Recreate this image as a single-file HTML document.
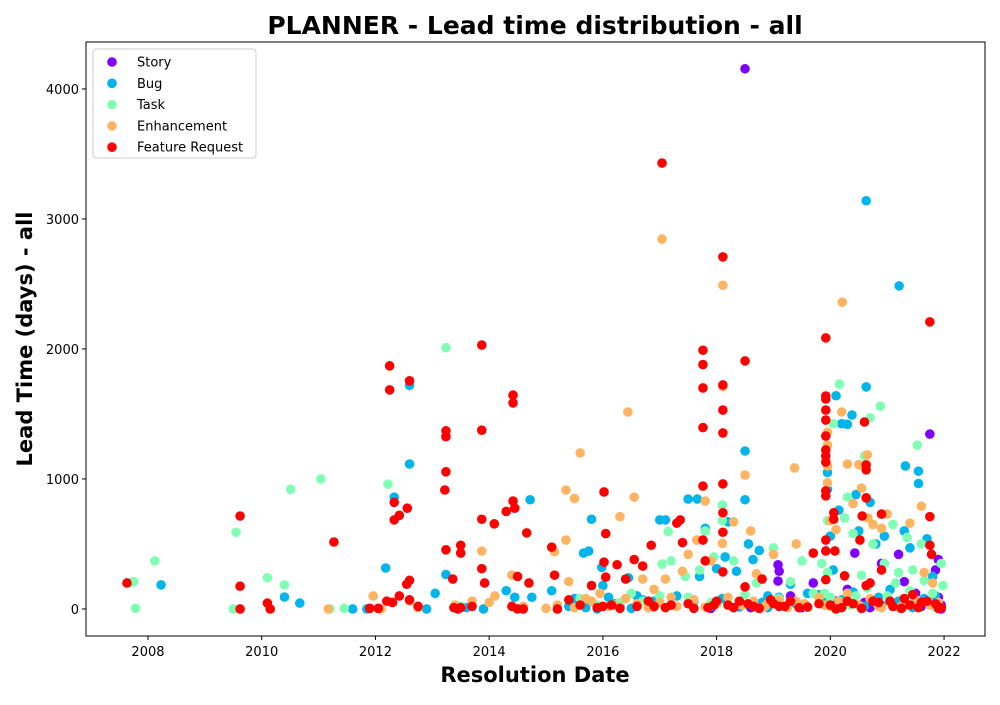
<!DOCTYPE html>
<html><head><meta charset="utf-8">
<style>
body{margin:0;background:#fff;font-family:"Liberation Sans","DejaVu Sans",sans-serif;}
svg text{font-family:"DejaVu Sans","Liberation Sans",sans-serif;}
</style></head>
<body>
<svg id="chart" width="1000" height="700" xmlns="http://www.w3.org/2000/svg">
<rect width="1000" height="700" fill="#fff"/>
<text x="535" y="34" text-anchor="middle" font-size="25" font-weight="bold">PLANNER - Lead time distribution - all</text>
<g id="marks"></g>
<rect x="86" y="42" width="899" height="594" fill="none" stroke="#000" stroke-width="1"/>
<g id="xticks"></g><g id="yticks"></g>
<text x="535" y="682" text-anchor="middle" font-size="21" font-weight="bold">Resolution Date</text>
<text transform="translate(32,339) rotate(-90)" text-anchor="middle" font-size="21" font-weight="bold">Lead Time (days) - all</text>
<g id="legend"></g>
</svg>
<script>
const seriesNames=["Story","Bug","Task","Enhancement","Feature Request"];
const seriesColors=["#8000ff","#00b4ec","#80ffb4","#ffb462","#ff0000"];
const xTicks=[2008,2010,2012,2014,2016,2018,2020,2022];
const yTicks=[0,1000,2000,3000,4000];
const storyPts=[[2018.5,4155],[2021.75,1345],[2019.08,215],[2019.08,340],[2019.1,290],[2020.43,430],[2021.9,380],[2021.95,30],[2021.9,90],[2021.85,300],[2020.9,350],[2021.3,210],[2020.1,60],[2019.5,10],[2019.7,200],[2021.2,420],[2021.5,120],[2020.7,10],[2021.95,0],[2018.9,20],[2019.3,100],[2020.3,150],[2019.9,30],[2020.6,50],[2021.6,20],[2021.1,40],[2018.6,10],[2017.9,5]];
const bugPts=[[2008.23,185],[2010.4,92],[2010.67,45],[2011.6,0],[2011.85,0],[2012.18,315],[2012.33,860],[2012.6,1720],[2012.6,1115],[2012.9,0],[2013.05,120],[2013.24,265],[2013.6,10],[2013.9,0],[2014.3,140],[2014.45,90],[2014.72,840],[2014.75,90],[2015.1,140],[2015.2,0],[2015.5,80],[2015.66,430],[2015.75,445],[2015.8,690],[2015.98,320],[2016.0,180],[2016.1,90],[2016.3,20],[2016.45,240],[2016.6,100],[2016.9,60],[2017.0,685],[2017.1,685],[2017.3,100],[2017.5,845],[2017.66,845],[2017.7,250],[2017.8,620],[2018.0,310],[2018.15,400],[2018.2,670],[2018.35,290],[2018.5,840],[2018.5,1215],[2018.56,500],[2018.64,380],[2018.75,450],[2018.9,100],[2019.3,190],[2019.6,120],[2019.9,80],[2019.95,1050],[2019.95,920],[2020.0,560],[2020.05,300],[2020.1,1640],[2020.15,760],[2020.2,1425],[2020.38,1492],[2020.3,1420],[2020.45,880],[2020.5,600],[2020.63,3140],[2020.63,1708],[2020.7,820],[2020.8,500],[2020.95,560],[2021.21,2485],[2021.3,600],[2021.32,1100],[2021.4,470],[2021.55,1060],[2021.55,965],[2021.7,540],[2021.8,250],[2021.85,100],[2021.5,40],[2020.9,30],[2019.5,30],[2018.9,10],[2017.9,20],[2016.8,10],[2015.9,0],[2015.4,20],[2016.2,40],[2016.5,5],[2017.2,30],[2017.6,60],[2018.1,80],[2018.4,15],[2018.8,50],[2019.1,90],[2019.4,40],[2019.8,110],[2020.2,70],[2020.4,130],[2020.6,20],[2020.85,90],[2021.05,150],[2021.2,60],[2021.45,10],[2021.65,80],[2021.9,30],[2015.7,10],[2016.7,70]];
const taskPts=[[2007.68,200],[2007.75,210],[2007.78,5],[2008.12,370],[2009.55,590],[2009.5,0],[2010.1,240],[2010.4,185],[2010.51,920],[2011.04,1000],[2011.2,0],[2011.45,5],[2012.22,960],[2013.24,2010],[2013.5,20],[2014.6,10],[2015.9,30],[2016.5,120],[2017.04,345],[2017.15,595],[2017.2,370],[2017.45,250],[2017.7,300],[2017.8,600],[2017.95,400],[2018.1,800],[2018.1,680],[2018.3,370],[2018.7,200],[2019.0,470],[2019.3,210],[2019.5,370],[2019.7,120],[2019.85,350],[2019.95,680],[2019.95,280],[2020.05,1425],[2020.16,1730],[2020.25,700],[2020.3,860],[2020.4,580],[2020.55,260],[2020.6,1177],[2020.7,1470],[2020.75,500],[2020.88,1560],[2020.95,350],[2021.1,650],[2021.2,280],[2021.35,550],[2021.45,300],[2021.53,1260],[2021.6,500],[2021.65,220],[2021.8,120],[2021.98,180],[2021.95,350],[2021.3,60],[2020.2,40],[2019.2,20],[2018.2,30],[2017.3,20],[2016.7,60],[2015.6,80],[2021.0,100],[2020.45,100],[2016.9,10],[2017.5,90],[2017.9,50],[2018.5,110],[2018.9,40],[2019.1,80],[2019.6,10],[2019.9,120],[2020.0,90],[2020.35,30],[2020.65,160],[2020.8,50],[2021.15,200],[2021.4,140],[2021.7,60],[2021.85,10],[2016.3,50],[2017.0,100]];
const enhPts=[[2011.17,0],[2011.96,100],[2012.1,0],[2012.6,60],[2012.75,10],[2013.4,30],[2013.7,60],[2013.87,445],[2014.0,50],[2014.1,100],[2014.4,260],[2014.6,20],[2015.0,5],[2015.15,440],[2015.35,530],[2015.35,915],[2015.5,850],[2015.6,1200],[2015.4,210],[2015.7,80],[2015.95,120],[2016.3,710],[2016.44,1515],[2016.55,860],[2016.7,230],[2016.9,150],[2017.04,2845],[2017.1,230],[2017.4,290],[2017.5,420],[2017.65,530],[2017.8,830],[2017.9,370],[2018.11,2490],[2018.11,1710],[2018.1,505],[2018.3,670],[2018.5,1030],[2018.6,600],[2018.7,270],[2019.0,420],[2019.37,1085],[2019.4,500],[2019.7,430],[2019.95,1360],[2019.95,1260],[2019.95,1100],[2019.95,970],[2020.0,680],[2020.1,610],[2020.21,2360],[2020.2,1515],[2020.3,1115],[2020.4,810],[2020.5,1110],[2020.55,930],[2020.65,1185],[2020.66,700],[2020.75,650],[2020.9,620],[2021.0,730],[2021.4,660],[2021.6,790],[2021.65,280],[2021.8,200],[2021.9,50],[2019.4,60],[2018.9,40],[2017.2,90],[2016.2,30],[2020.9,10],[2021.3,20],[2018.3,10],[2019.9,30],[2015.2,30],[2015.5,10],[2015.8,60],[2016.1,20],[2016.4,80],[2016.6,40],[2016.8,10],[2017.0,50],[2017.3,20],[2017.6,70],[2017.8,15],[2018.0,40],[2018.2,90],[2018.45,30],[2018.65,60],[2018.85,20],[2019.1,70],[2019.25,10],[2019.55,40],[2019.8,90],[2020.0,20],[2020.15,60],[2020.3,120],[2020.5,30],[2020.7,80],[2020.85,20],[2021.05,50],[2021.2,10],[2021.5,70],[2021.75,30],[2021.95,10]];
const featPts=[[2007.63,200],[2009.62,715],[2009.62,175],[2009.62,0],[2010.1,45],[2010.15,0],[2011.27,515],[2011.9,5],[2012.05,5],[2012.25,1870],[2012.25,1685],[2012.2,60],[2012.3,50],[2012.33,820],[2012.33,685],[2012.42,720],[2012.42,100],[2012.56,775],[2012.6,1755],[2012.6,220],[2012.55,190],[2012.6,70],[2012.75,20],[2013.22,915],[2013.24,1370],[2013.24,1325],[2013.24,1055],[2013.24,455],[2013.36,230],[2013.38,10],[2013.45,0],[2013.5,430],[2013.5,490],[2013.5,10],[2013.7,20],[2013.87,2030],[2013.87,1375],[2013.87,690],[2013.87,310],[2013.92,200],[2014.09,655],[2014.3,750],[2014.4,20],[2014.42,1645],[2014.42,1585],[2014.42,830],[2014.45,775],[2014.5,250],[2014.5,0],[2014.6,0],[2014.66,585],[2014.7,200],[2015.1,475],[2015.15,260],[2015.2,0],[2015.4,70],[2015.6,30],[2015.8,180],[2016.0,20],[2016.02,900],[2016.02,360],[2016.05,245],[2016.05,580],[2016.15,30],[2016.25,340],[2016.4,230],[2016.55,380],[2016.6,20],[2016.7,330],[2016.8,60],[2016.85,490],[2017.04,3430],[2017.2,30],[2017.36,685],[2017.3,660],[2017.4,510],[2017.5,40],[2017.76,1990],[2017.76,1880],[2017.76,1700],[2017.76,1395],[2017.76,945],[2017.76,530],[2017.8,370],[2017.85,10],[2018.0,60],[2018.11,2708],[2018.11,1723],[2018.11,1530],[2018.11,1354],[2018.11,962],[2018.11,740],[2018.11,590],[2018.11,285],[2018.2,30],[2018.5,1908],[2018.5,170],[2018.65,20],[2018.8,230],[2018.95,70],[2019.2,20],[2019.45,10],[2019.7,430],[2019.8,40],[2019.92,2085],[2019.92,1638],[2019.92,1615],[2019.92,1530],[2019.92,1453],[2019.92,1330],[2019.92,1223],[2019.92,1177],[2019.92,1130],[2019.92,908],[2019.92,870],[2019.92,530],[2019.92,446],[2019.92,225],[2020.06,740],[2020.06,690],[2020.08,446],[2020.1,0],[2020.25,255],[2020.3,60],[2020.52,530],[2020.56,715],[2020.6,1438],[2020.63,1108],[2020.63,1070],[2020.63,855],[2020.63,180],[2020.7,200],[2020.75,60],[2020.9,730],[2020.9,300],[2021.05,60],[2021.3,80],[2021.45,110],[2021.6,50],[2021.75,2208],[2021.75,710],[2021.75,490],[2021.78,420],[2021.85,40],[2021.95,10],[2019.0,40],[2018.4,60],[2015.9,10],[2016.3,5],[2016.9,20],[2017.1,10],[2017.6,5],[2017.95,30],[2018.3,10],[2018.55,40],[2018.75,5],[2019.1,20],[2019.3,60],[2019.6,15],[2020.0,30],[2020.2,10],[2020.4,40],[2020.55,5],[2020.85,50],[2021.1,20],[2021.25,5],[2021.4,30],[2021.55,10],[2021.7,60],[2021.9,5]];
const allSeries=[storyPts,bugPts,taskPts,enhPts,featPts];

const L=86,T=42,W=899,H=594;
const xMin=2006.91,xMax=2022.72,yMin=-208,yMax=4361;
const xs=v=>L+(v-xMin)/(xMax-xMin)*W;
const ys=v=>T+H-(v-yMin)/(yMax-yMin)*H;
const NS="http://www.w3.org/2000/svg";
const mk=(t,a,p)=>{const e=document.createElementNS(NS,t);for(const k in a)e.setAttribute(k,a[k]);p.appendChild(e);return e;};

const marks=document.getElementById('marks');
allSeries.forEach((pts,si)=>{
  const g=mk('g',{},marks);
  
  
  pts.forEach(p=>{
    const c=mk('circle',{cx:xs(p[0]),cy:ys(p[1]),r:4.8,fill:seriesColors[si]},g);
    
    
  });
});

const xg=document.getElementById('xticks');


xTicks.forEach(t=>{
  const x=xs(t);
  mk('line',{x1:x,x2:x,y1:T+H,y2:T+H+4,stroke:'#000'},xg);
  const tx=mk('text',{x:x,y:T+H+20,'text-anchor':'middle','font-size':13},xg);
  tx.textContent=t;
  
  
});
const yg=document.getElementById('yticks');


yTicks.forEach(t=>{
  const y=ys(t);
  mk('line',{x1:L-4,x2:L,y1:y,y2:y,stroke:'#000'},yg);
  const tx=mk('text',{x:L-7,y:y+5,'text-anchor':'end','font-size':13},yg);
  tx.textContent=t;
  
  
});

const lg=document.getElementById('legend');
mk('rect',{x:93,y:49,width:163,height:109,rx:3,fill:'#fff','fill-opacity':0.85,stroke:'#ccc'},lg);
seriesNames.forEach((n,i)=>{
  const y=62+i*21.3;
  const e=mk('g',{},lg);
  
  
  mk('circle',{cx:112,cy:y,r:4.8,fill:seriesColors[i]},e);
  const tx=mk('text',{x:137,y:y+4.5,'font-size':13},e);
  tx.textContent=n;
});
</script>
</body></html>
